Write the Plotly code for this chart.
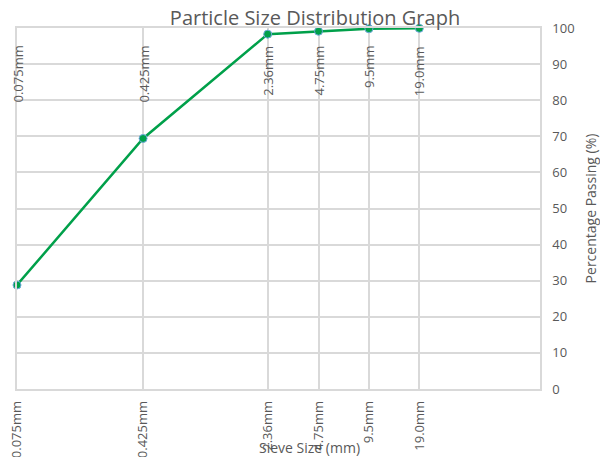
import plotly.graph_objects as go
import numpy as np

sieve_sizes = [0.075, 0.425, 2.36, 4.75, 9.5, 19.0]
sieve_labels = ["0.075mm", "0.425mm", "2.36mm", "4.75mm", "9.5mm", "19.0mm"]
percent_passing = [28.8, 69.4, 98.3, 99.1, 99.8, 99.9]
y_ticks = [0, 10, 20, 30, 40, 50, 60, 70, 80, 90, 100]

GRID = "#d9d9d9"
TXT = "#595959"
FONT = "Open Sans"

fig = go.Figure()
fig.add_trace(go.Scatter(
    x=sieve_sizes, y=percent_passing, mode="lines+markers",
    line=dict(color="#00A04A", width=2.5),
    marker=dict(color="#00A04A", size=8, line=dict(color="#6FA8DC", width=1)),
    showlegend=False, hoverinfo="x+y", cliponaxis=False,
))

for xv, lab in zip(sieve_sizes, sieve_labels):
    fig.add_annotation(x=np.log10(xv), y=1, xref="x", yref="paper",
                       yshift=-16, text=lab, textangle=-90, showarrow=False,
                       xanchor="center", yanchor="top",
                       font=dict(family=FONT, size=13, color=TXT))

fig.update_layout(
    width=600, height=457,
    margin=dict(l=17, r=60, t=28, b=68, autoexpand=False),
    paper_bgcolor="white", plot_bgcolor="white",
    title=dict(text="Particle Size Distribution Graph", x=0.525, xanchor="center",
               y=0.96, yanchor="middle",
               font=dict(family=FONT, size=20, color=TXT)),
    xaxis=dict(type="log", range=[np.log10(0.075), 2.0], automargin=False,
               tickvals=sieve_sizes, ticktext=sieve_labels, tickangle=-90,
               ticklabelstandoff=5,
               showgrid=True, gridcolor=GRID, gridwidth=1.5,
               showline=True, linecolor=GRID, linewidth=1.5, mirror=True,
               ticks="", zeroline=False,
               tickfont=dict(family=FONT, size=13, color=TXT)),
    yaxis=dict(side="right", range=[0, 100], tickvals=y_ticks, automargin=False,
               ticklabelstandoff=8,
               showgrid=True, gridcolor=GRID, gridwidth=1.5,
               showline=True, linecolor=GRID, linewidth=1.5, mirror=True,
               ticks="", zeroline=False,
               title=dict(text="Percentage Passing (%)", standoff=14,
                          font=dict(family=FONT, size=14, color=TXT)),
               tickfont=dict(family=FONT, size=13, color=TXT)),
)

fig.add_annotation(x=0.56, y=0, xref="paper", yref="paper", yshift=-58,
                   text="Sieve Size (mm)", showarrow=False,
                   xanchor="center", yanchor="middle",
                   font=dict(family=FONT, size=14, color=TXT))

fig.write_html("out.html", config={"displayModeBar": False},
               post_script="document.body.style.margin='0';document.body.style.overflow='hidden';")
